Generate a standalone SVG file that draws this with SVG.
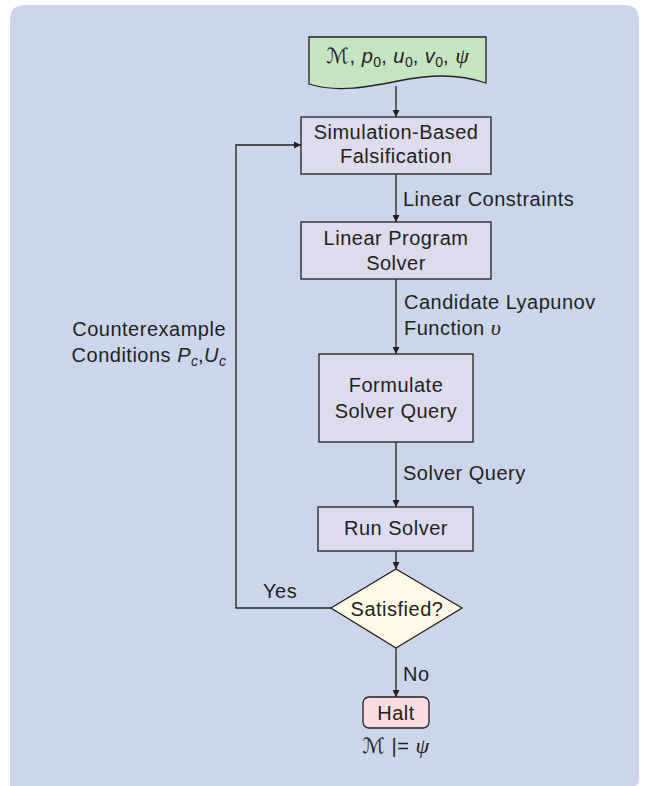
<svg xmlns="http://www.w3.org/2000/svg" width="647" height="786" viewBox="0 0 647 786">
  <defs>
    <marker id="arrow" viewBox="0 0 10 10" refX="10" refY="5" markerWidth="8" markerHeight="7" markerUnits="userSpaceOnUse" orient="auto">
      <path d="M0,0 L10,5 L0,10 z" fill="#231f20"/>
    </marker>
    <style>
      .lbl { font-family: "Liberation Sans", Arial, sans-serif; font-size: 20px; letter-spacing: 0.5px; fill: #231f20; }
      .mid { text-anchor: middle; }
      .end { text-anchor: end; }
      .it { font-style: italic; }
      .math { font-family: "Liberation Serif", "DejaVu Serif", serif; font-style: italic; }
      .cal { font-family: "DejaVu Sans", "Noto Sans", sans-serif; font-style: normal; }
      .sub { font-size: 14px; letter-spacing: 0; }
      .box { fill: #dcdcee; stroke: #231f20; stroke-width: 1.3; }
      .edge { fill: none; stroke: #231f20; stroke-width: 1.3; }
      .arr { marker-end: url(#arrow); }
    </style>
  </defs>

  <!-- backdrop panel -->
  <rect x="0" y="0" width="647" height="786" fill="#ffffff"/>
  <path d="M25,5 H624 Q639,5 639,20 V780 Q639,786 633,786 H10 V20 Q10,5 25,5 Z" fill="#cbd6ec"/>

  <!-- connectors -->
  <g id="connectors">
    <line class="edge arr" x1="396" y1="86" x2="396" y2="117"/>
    <line class="edge arr" x1="396" y1="174" x2="396" y2="222"/>
    <line class="edge arr" x1="396" y1="279" x2="396" y2="354"/>
    <line class="edge arr" x1="396" y1="442" x2="396" y2="507"/>
    <line class="edge arr" x1="396" y1="551" x2="396" y2="569"/>
    <line class="edge arr" x1="396" y1="648" x2="396" y2="697"/>
    <polyline class="edge arr" points="331,608 236,608 236,145 301,145"/>
    <text class="lbl" x="403" y="206">Linear Constraints</text>
    <text class="lbl" x="404" y="309">Candidate Lyapunov</text>
    <text class="lbl" x="404" y="335">Function <tspan class="math" font-size="22" letter-spacing="0">υ</tspan></text>
    <text class="lbl" x="403" y="480">Solver Query</text>
    <text class="lbl" x="263" y="598">Yes</text>
    <text class="lbl" x="403" y="681">No</text>
    <text class="lbl end" x="226" y="336">Counterexample</text>
    <text class="lbl end" x="226" y="362">Conditions <tspan class="it">P</tspan><tspan class="it sub" dy="4">c</tspan><tspan dy="-4">,</tspan><tspan class="it">U</tspan><tspan class="it sub" dy="4">c</tspan></text>
  </g>

  <!-- input data -->
  <g id="input">
    <path d="M309,37 H486 V83 C456,73 428,75 398,81 C368,87 338,93 309,84 Z" fill="#c5e4c0" stroke="#231f20" stroke-width="1.3"/>
    <text class="lbl mid" x="398" y="63" letter-spacing="0"><tspan class="cal" font-size="21">ℳ</tspan>, <tspan class="it">p</tspan><tspan class="sub" dy="4">0</tspan><tspan dy="-4">, </tspan><tspan class="it">u</tspan><tspan class="sub" dy="4">0</tspan><tspan dy="-4">, </tspan><tspan class="it">v</tspan><tspan class="sub" dy="4">0</tspan><tspan dy="-4">, </tspan><tspan class="math" font-size="22">ψ</tspan></text>
  </g>

  <g id="falsification">
    <rect class="box" x="301" y="117" width="190" height="57"/>
    <text class="lbl mid" x="396" y="139">Simulation-Based</text>
    <text class="lbl mid" x="396" y="163">Falsification</text>
  </g>

  <g id="lp-solver">
    <rect class="box" x="301" y="222" width="190" height="57"/>
    <text class="lbl mid" x="396" y="245">Linear Program</text>
    <text class="lbl mid" x="396" y="270">Solver</text>
  </g>

  <g id="formulate">
    <rect class="box" x="319" y="354" width="154" height="88"/>
    <text class="lbl mid" x="396" y="392">Formulate</text>
    <text class="lbl mid" x="396" y="418">Solver Query</text>
  </g>

  <g id="run-solver">
    <rect class="box" x="318" y="507" width="155" height="44"/>
    <text class="lbl mid" x="396" y="535">Run Solver</text>
  </g>

  <g id="satisfied">
    <polygon points="396,569 462,608 396,648 331,608" fill="#fffbe6" stroke="#231f20" stroke-width="1.3"/>
    <text class="lbl mid" x="397" y="616">Satisfied?</text>
  </g>

  <g id="halt">
    <rect x="363" y="697" width="66" height="31" rx="6" fill="#fbdde1" stroke="#231f20" stroke-width="1.3"/>
    <text class="lbl mid" x="396" y="720">Halt</text>
    <text class="lbl mid" x="396" y="753" letter-spacing="0"><tspan class="cal" font-size="21">ℳ</tspan> |= <tspan class="math" font-size="22">ψ</tspan></text>
  </g>
</svg>
